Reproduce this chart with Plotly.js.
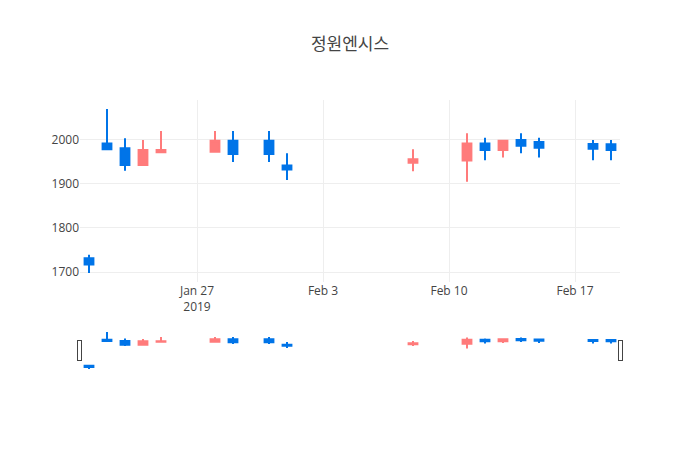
<!DOCTYPE html>
<html>
<head>
<meta charset="utf-8">
<script src="https://cdn.plot.ly/plotly-3.0.1.min.js"></script>
<style>html,body{margin:0;padding:0;background:#fff;}#chart{width:700px;height:450px;}</style>
</head>
<body>
<div id="chart"></div>
<script>
var dates = ["2019-01-21","2019-01-22","2019-01-23","2019-01-24","2019-01-25","2019-01-28","2019-01-29","2019-01-31","2019-02-01","2019-02-08","2019-02-11","2019-02-12","2019-02-13","2019-02-14","2019-02-15","2019-02-18","2019-02-19"];
var openVals  = [1731, 1992, 1981, 1943, 1972, 1973, 1998, 1998, 1942, 1948, 1953, 1992, 1977, 2000, 1995, 1991, 1990];
var highVals  = [1739, 2070, 2004, 2000, 2020, 2020, 2020, 2020, 1970, 1979, 2015, 2005, 2000, 2015, 2005, 2000, 2000];
var lowVals   = [1698, 1979, 1930, 1943, 1972, 1973, 1950, 1950, 1909, 1929, 1905, 1954, 1960, 1970, 1960, 1954, 1954];
var closeVals = [1717, 1979, 1943, 1977, 1977, 1998, 1968, 1968, 1933, 1956, 1992, 1977, 1998, 1987, 1982, 1980, 1977];
var titleText = "정원엔시스";

var upColor = "#ff7b7b";
var downColor = "#0074e8";

var trace = {
  type: "candlestick",
  x: dates,
  open: openVals,
  high: highVals,
  low: lowVals,
  close: closeVals,
  increasing: {line: {color: upColor}, fillcolor: upColor},
  decreasing: {line: {color: downColor}, fillcolor: downColor}
};

var layout = {
  width: 700,
  height: 450,
  title: {text: titleText, font: {family: "Open Sans, Noto Sans CJK KR, sans-serif", size: 17, color: "#444"}},
  font: {family: "Open Sans, verdana, arial, sans-serif", color: "#444"},
  paper_bgcolor: "#fff",
  plot_bgcolor: "#fff",
  showlegend: false,
  xaxis: {type: "date", gridcolor: "#eee", rangeslider: {visible: true}},
  yaxis: {gridcolor: "#eee"}
};

Plotly.newPlot("chart", [trace], layout, {displayModeBar: false});
</script>
</body>
</html>
